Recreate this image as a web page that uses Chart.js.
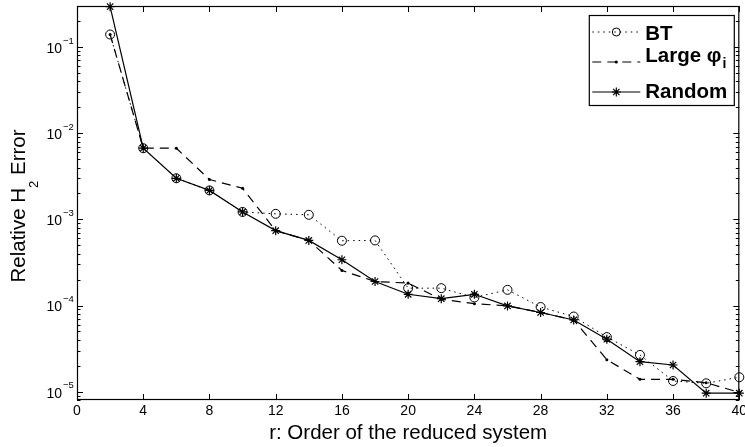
<!DOCTYPE html>
<html>
<head>
<meta charset="utf-8">
<script src="https://cdn.jsdelivr.net/npm/chart.js@4.4.1/dist/chart.umd.min.js"></script>
<style>
html, body { margin: 0; padding: 0; background: #fff; }
#wrap { width: 745px; height: 447px; }
</style>
</head>
<body>
<div id="wrap"><canvas id="grafico" width="745" height="447"></canvas></div>
<script>
// ordem do sistema reduzido
const ordens = [2, 4, 6, 8, 10, 12, 14, 16, 18, 20, 22, 24, 26, 28, 30, 32, 34, 36, 38, 40];
// erro H2 relativo
const erroBT = [0.14, 0.0067, 0.0030, 0.00217, 0.00122, 1.16e-3, 1.13e-3, 5.65e-4, 5.7e-4, 1.59e-4,
  1.59e-4, 1.24e-4, 1.52e-4, 9.6e-5, 7.45e-5, 4.3e-5, 2.67e-5, 1.33e-5, 1.25e-5, 1.47e-5];
const erroLarge = [0.14, 0.0067, 0.0067, 0.0029, 0.0023, 7.4e-4, 5.7e-4, 2.55e-4, 1.9e-4, 1.82e-4,
  1.18e-4, 1.05e-4, 9.9e-5, 8.3e-5, 6.8e-5, 2.35e-5, 1.39e-5, 1.39e-5, 1.27e-5, 9.8e-6];
const erroRandom = [0.295, 0.0067, 0.0030, 0.00217, 0.00122, 7.4e-4, 5.7e-4, 3.4e-4, 1.9e-4, 1.35e-4,
  1.2e-4, 1.35e-4, 9.9e-5, 8.3e-5, 6.8e-5, 4.07e-5, 2.23e-5, 2.04e-5, 9.6e-6, 9.6e-6];

const ticksX = [0, 4, 8, 12, 16, 20, 24, 28, 32, 36, 40];
const decadas = [1e-5, 1e-4, 1e-3, 1e-2, 1e-1];
const expoentes = ['\u22125', '\u22124', '\u22123', '\u22122', '\u22121'];

const fonte = '"Liberation Sans", Arial, Helvetica, sans-serif';

function pontos(valores) {
  return ordens.map((o, i) => ({ x: o, y: valores[i] }));
}

// marcadores desenhados a mao (legenda)
function marcador(ctx, tipo, x, y, r) {
  ctx.beginPath();
  if (tipo === 'circle') {
    ctx.arc(x, y, r, 0, Math.PI * 2);
    ctx.stroke();
  } else if (tipo === 'dot') {
    ctx.arc(x, y, r, 0, Math.PI * 2);
    ctx.fill();
  } else {
    ctx.moveTo(x - r, y); ctx.lineTo(x + r, y);
    ctx.moveTo(x, y - r); ctx.lineTo(x, y + r);
    const d = r * Math.SQRT1_2;
    ctx.moveTo(x - d, y - d); ctx.lineTo(x + d, y + d);
    ctx.moveTo(x - d, y + d); ctx.lineTo(x + d, y - d);
    ctx.stroke();
  }
}

const moldura = {
  id: 'moldura',
  afterDraw(chart) {
    const { ctx, chartArea: a, scales: { x, y } } = chart;
    ctx.save();
    ctx.strokeStyle = '#000';
    ctx.fillStyle = '#000';
    ctx.lineWidth = 1;

    // marcas dos eixos, para dentro
    ctx.beginPath();
    ticksX.forEach(v => {
      const px = Math.round(x.getPixelForValue(v)) + 0.5;
      ctx.moveTo(px, a.bottom); ctx.lineTo(px, a.bottom - 6);
      ctx.moveTo(px, a.top); ctx.lineTo(px, a.top + 6);
    });
    for (let e = -6; e <= 0; e++) {
      for (let m = 1; m <= 9; m++) {
        const v = m * Math.pow(10, e);
        if (v < y.min || v > y.max) continue;
        const py = Math.round(y.getPixelForValue(v)) + 0.5;
        const len = m === 1 ? 6 : 3.5;
        ctx.moveTo(a.left, py); ctx.lineTo(a.left + len, py);
        ctx.moveTo(a.right, py); ctx.lineTo(a.right - len, py);
      }
    }
    ctx.stroke();

    // caixa
    ctx.lineWidth = 1.2;
    ctx.strokeRect(a.left + 0.5, a.top + 0.5, a.right - a.left - 1, a.bottom - a.top - 1);

    // rotulos do eixo y com expoente
    decadas.forEach((v, i) => {
      const py = y.getPixelForValue(v);
      ctx.textBaseline = 'middle';
      ctx.font = '14px ' + fonte;
      ctx.textAlign = 'right';
      ctx.fillText('10', a.left - 15, py + 2);
      ctx.font = '9.5px ' + fonte;
      ctx.textAlign = 'left';
      ctx.fillText(expoentes[i], a.left - 14, py - 6);
    });

    // titulo do eixo y
    ctx.save();
    ctx.translate(0, (a.top + a.bottom) / 2 + 3);
    ctx.rotate(-Math.PI / 2);
    ctx.textBaseline = 'alphabetic';
    ctx.textAlign = 'left';
    ctx.font = '20.5px ' + fonte;
    const t1 = 'Relative H', t3 = ' Error';
    const w1 = ctx.measureText(t1).width, w3 = ctx.measureText(t3).width;
    ctx.font = '13px ' + fonte;
    const w2 = ctx.measureText('2').width;
    let sx = -(w1 + w2 + w3) / 2;
    ctx.font = '20.5px ' + fonte;
    ctx.fillText(t1, sx, 25);
    ctx.font = '13px ' + fonte;
    ctx.fillText('2', sx + w1, 38);
    ctx.font = '20.5px ' + fonte;
    ctx.fillText(t3, sx + w1 + w2, 25);
    ctx.restore();

    // legenda
    const L = a.right - 150.5, T = a.top + 9, W = 145, H = 90;
    ctx.fillStyle = '#fff';
    ctx.fillRect(L, T, W, H);
    ctx.fillStyle = '#000';
    ctx.lineWidth = 1.2;
    ctx.strokeRect(L + 0.5, T + 0.5, W, H);

    const x0 = L + 3.5, x1 = L + 51.5, xm = (x0 + x1) / 2, xt = L + 56.5;
    ctx.lineWidth = 1;
    // BT
    ctx.setLineDash([1.5, 4]);
    ctx.beginPath(); ctx.moveTo(x0, T + 17); ctx.lineTo(x1, T + 17); ctx.stroke();
    ctx.setLineDash([]);
    marcador(ctx, 'circle', xm, T + 17, 4);
    // Large
    ctx.lineWidth = 1.2;
    ctx.setLineDash([9, 6]);
    ctx.beginPath(); ctx.moveTo(x0, T + 47); ctx.lineTo(x1, T + 47); ctx.stroke();
    ctx.setLineDash([]);
    marcador(ctx, 'dot', xm, T + 47, 1.6);
    // Random
    ctx.beginPath(); ctx.moveTo(x0, T + 77); ctx.lineTo(x1, T + 77); ctx.stroke();
    marcador(ctx, 'star', xm, T + 77, 4.5);

    ctx.textAlign = 'left';
    ctx.textBaseline = 'alphabetic';
    ctx.font = 'bold 20.5px ' + fonte;
    ctx.fillText('BT', xt, T + 25);
    ctx.fillText('Large \u03c6', xt, T + 47);
    const wl = ctx.measureText('Large \u03c6').width;
    ctx.font = 'bold 14px ' + fonte;
    ctx.fillText('i', xt + wl + 1, T + 53);
    ctx.font = 'bold 20.5px ' + fonte;
    ctx.fillText('Random', xt, T + 83);

    ctx.restore();
  }
};

const ctx = document.querySelector('#grafico');

new Chart(ctx, {
  type: 'line',
  data: {
    datasets: [
      {
        label: 'Random',
        data: pontos(erroRandom),
        borderColor: '#000',
        borderWidth: 1.2,
        pointStyle: 'star',
        pointRadius: 4.5,
        pointBorderWidth: 1.2,
        pointBorderColor: '#000',
        pointBackgroundColor: '#000',
        tension: 0,
        clip: false
      },
      {
        label: 'Large \u03c6i',
        data: pontos(erroLarge),
        borderColor: '#000',
        borderWidth: 1.2,
        borderDash: [9, 6],
        pointStyle: 'circle',
        pointRadius: 1.5,
        pointBorderWidth: 0,
        pointBackgroundColor: '#000',
        tension: 0,
        clip: false
      },
      {
        label: 'BT',
        data: pontos(erroBT),
        borderColor: '#000',
        borderWidth: 1,
        borderDash: [1.5, 4],
        pointStyle: 'circle',
        pointRadius: 4.5,
        pointBorderWidth: 1,
        pointBorderColor: '#000',
        pointBackgroundColor: 'rgba(0,0,0,0)',
        tension: 0,
        clip: false
      }
    ]
  },
  options: {
    responsive: false,
    animation: false,
    layout: { padding: { left: 0, right: 3, top: 6, bottom: 0 } },
    plugins: {
      legend: { display: false },
      tooltip: { enabled: false }
    },
    scales: {
      x: {
        type: 'linear',
        min: 0,
        max: 40,
        afterBuildTicks: s => { s.ticks = ticksX.map(v => ({ value: v })); },
        afterFit: s => { s.height = 47; s.paddingLeft = 0; s.paddingRight = 0; },
        ticks: {
          color: '#000',
          font: { family: fonte, size: 14 },
          padding: 3,
          maxRotation: 0,
          autoSkip: false
        },
        grid: { display: false, drawTicks: false },
        border: { display: false },
        title: {
          display: true,
          text: 'r: Order of the reduced system',
          color: '#000',
          font: { family: fonte, size: 20.5 },
          padding: { top: 0, bottom: 1 }
        }
      },
      y: {
        type: 'logarithmic',
        min: 8e-6,
        max: 0.3,
        afterBuildTicks: s => { s.ticks = decadas.map(v => ({ value: v })); },
        afterFit: s => { s.width = 77; s.paddingTop = 0; s.paddingBottom = 0; },
        ticks: { display: false },
        grid: { display: false, drawTicks: false },
        border: { display: false }
      }
    }
  },
  plugins: [moldura]
});
</script>
</body>
</html>
